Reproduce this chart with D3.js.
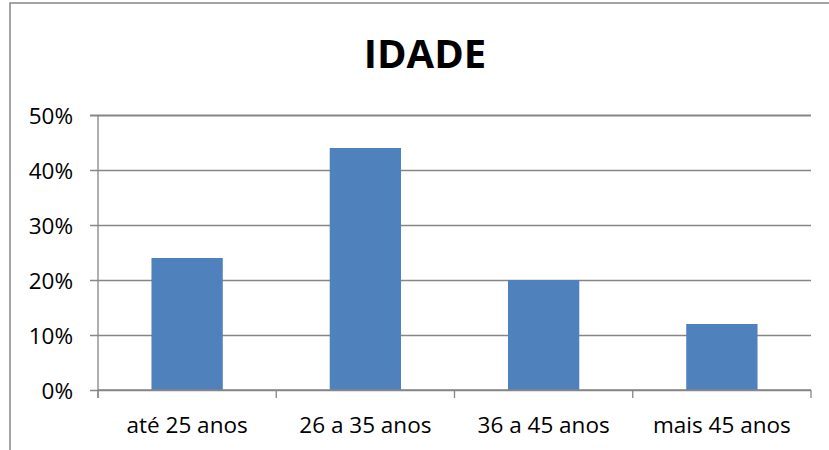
<!DOCTYPE html>
<html>
<head>
<meta charset="utf-8">
<script src="https://cdn.jsdelivr.net/npm/d3@7"></script>
<style>
  html, body { margin: 0; padding: 0; background: #fff; }
  svg { display: block; font-family: "Open Sans", sans-serif; }
</style>
</head>
<body>
<svg id="chart" width="829" height="450"></svg>
<script>
// chart values
var categories = ["até 25 anos", "26 a 35 anos", "36 a 45 anos", "mais 45 anos"];
var values = [0.24, 0.44, 0.20, 0.12];
var yTicks = [0, 0.1, 0.2, 0.3, 0.4, 0.5];
var title = "IDADE";

var svg = d3.select("#chart");
var grey = "#868686";

// outer frame (runs off the right and bottom edges)
svg.append("rect").attr("x", 10).attr("y", 3).attr("width", 840).attr("height", 470)
  .attr("fill", "#fff").attr("stroke", grey).attr("stroke-width", 1.5);

var plotLeft = 98, plotRight = 811, plotTop = 115, plotBottom = 390;

var x = d3.scaleBand().domain(categories).range([plotLeft, plotRight]).paddingInner(0).paddingOuter(0);
var y = d3.scaleLinear().domain([0, 0.5]).range([plotBottom, plotTop]);

// gridlines + y ticks
var yAxis = d3.axisLeft(y).tickValues(yTicks).tickFormat(d3.format(".0%"))
  .tickSize(-(plotRight - plotLeft)).tickPadding(25);
var gy = svg.append("g").attr("transform", "translate(" + plotLeft + ",0)").call(yAxis);
gy.select(".domain").remove();
gy.selectAll(".tick line").attr("stroke", grey).attr("stroke-width", 1.3).attr("x1", -8);
gy.selectAll(".tick text").attr("fill", "#000").attr("font-size", "22.5px")
  .attr("font-family", "Open Sans, sans-serif").attr("dy", "0.36em");
gy.selectAll(".tick").filter(function (d) { return d === 0.5; }).select("line").attr("stroke-width", 2);

// y axis line
svg.append("line").attr("x1", plotLeft).attr("x2", plotLeft).attr("y1", plotTop).attr("y2", plotBottom + 8)
  .attr("stroke", grey).attr("stroke-width", 1.3);

// bars
svg.append("g").selectAll("rect").data(values).enter().append("rect")
  .attr("x", function (d, i) { return x(categories[i]) + x.bandwidth() * 0.3; })
  .attr("width", x.bandwidth() * 0.4)
  .attr("y", function (d) { return y(d); })
  .attr("height", function (d) { return y(0) - y(d); })
  .attr("fill", "#4F81BD");

// x axis line + boundary ticks
svg.append("line").attr("x1", plotLeft).attr("x2", plotRight).attr("y1", plotBottom).attr("y2", plotBottom)
  .attr("stroke", grey).attr("stroke-width", 1.3);
var bounds = categories.map(function (c) { return x(c); }).concat([plotRight]);
svg.append("g").selectAll("line").data(bounds).enter().append("line")
  .attr("x1", function (d) { return d; }).attr("x2", function (d) { return d; })
  .attr("y1", plotBottom).attr("y2", plotBottom + 8).attr("stroke", grey).attr("stroke-width", 1.3);

// category labels
svg.append("g").selectAll("text").data(categories).enter().append("text")
  .attr("x", function (d) { return x(d) + x.bandwidth() / 2; })
  .attr("y", 433).attr("text-anchor", "middle").attr("font-size", "22.5px").attr("fill", "#000")
  .text(function (d) { return d; });

// title
svg.append("text").attr("x", 425).attr("y", 67.5).attr("text-anchor", "middle")
  .attr("font-size", "40px").attr("font-weight", "bold").attr("fill", "#000").text(title);
</script>
</body>
</html>
